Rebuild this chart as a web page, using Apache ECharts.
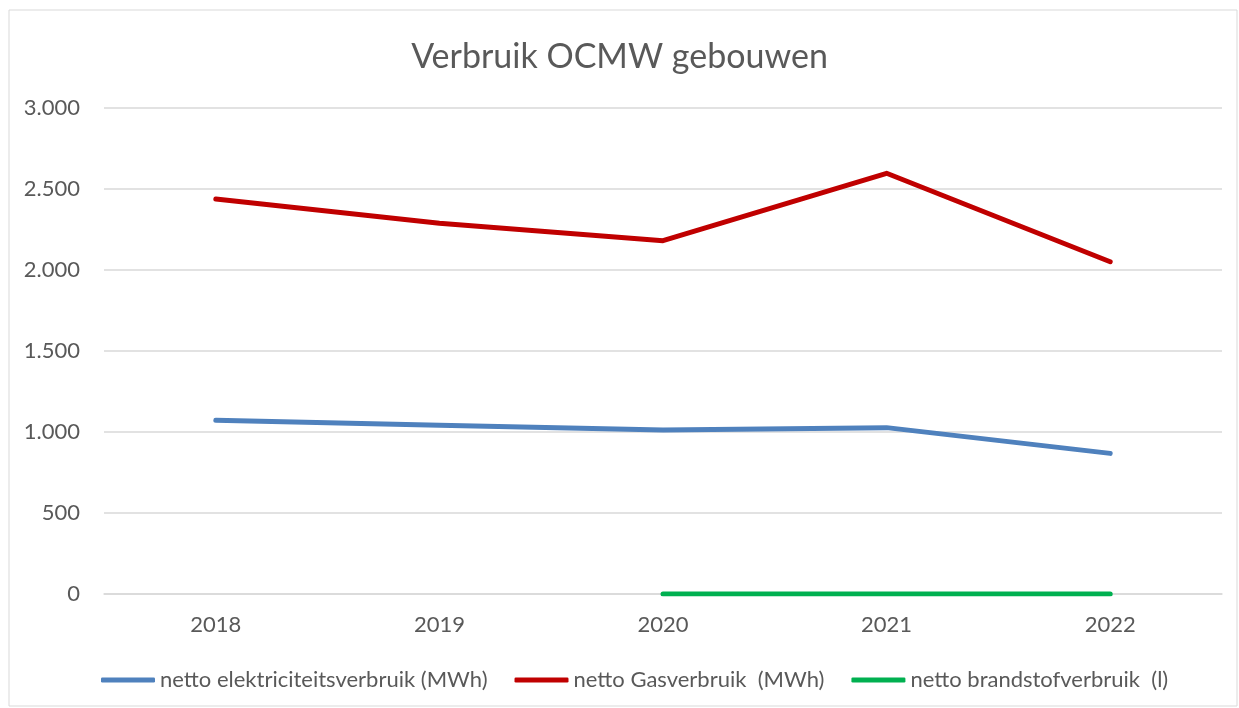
<!DOCTYPE html>
<html>
<head>
<meta charset="utf-8">
<script src="https://cdn.jsdelivr.net/npm/echarts@6/dist/echarts.min.js"></script>
<style>
  html, body { margin: 0; padding: 0; background: #fff; }
  #chart { width: 1239px; height: 708px; }
</style>
</head>
<body>
<div id="chart"></div>
<script>
// Verbruik OCMW gebouwen - lijngrafiek
var years = ['2018', '2019', '2020', '2021', '2022'];
var elektriciteit = [1072, 1041, 1012, 1027, 868];
var gas = [2438, 2288, 2181, 2597, 2051];
var brandstof = [null, null, 0, 0, 0];
var yTicks = [0, 500, 1000, 1500, 2000, 2500, 3000];

(function () {
  var chart = echarts.init(document.getElementById('chart'), null, { renderer: 'canvas' });
  var font = 'Lato, "Open Sans", sans-serif';
  var grey = '#595959';
  var rule = '#d9d9d9';

  function nl(v) { return String(v).replace(/\B(?=(\d{3})+(?!\d))/g, '.'); }

  function lineSeries(name, data, color) {
    return {
      name: name, type: 'line', data: data, symbol: 'none',
      lineStyle: { color: color, width: 5, cap: 'round', join: 'round' },
      itemStyle: { color: color }
    };
  }

  chart.setOption({
    animation: false,
    textStyle: { fontFamily: font },
    title: {
      text: 'Verbruik OCMW gebouwen', left: 'center', top: 35,
      textStyle: { color: grey, fontSize: 34, fontWeight: 'normal', fontFamily: font }
    },
    graphic: [{
      type: 'rect', shape: { x: 9, y: 10, width: 1228, height: 696 },
      style: { fill: 'none', stroke: rule, lineWidth: 1 }, silent: true
    }],
    grid: { left: 104, right: 17, top: 108, bottom: 114 },
    legend: {
      bottom: 12, left: 96, icon: 'roundRect', itemWidth: 54, itemHeight: 5, itemGap: 27,
      textStyle: { color: grey, fontSize: 22, fontFamily: font },
      data: ['netto elektriciteitsverbruik (MWh)', 'netto Gasverbruik  (MWh)', 'netto brandstofverbruik  (l)']
    },
    xAxis: {
      type: 'category', data: years, boundaryGap: true,
      axisLine: { lineStyle: { color: rule, width: 1.5 } },
      axisTick: { show: false },
      axisLabel: { color: grey, fontSize: 22, margin: 20, fontFamily: font }
    },
    yAxis: {
      type: 'value', min: yTicks[0], max: yTicks[yTicks.length - 1], interval: 500,
      axisLine: { show: false }, axisTick: { show: false },
      axisLabel: { color: grey, fontSize: 22, margin: 24, fontFamily: font, formatter: nl },
      splitLine: { lineStyle: { color: rule, width: 1.5 } }
    },
    series: [
      lineSeries('netto elektriciteitsverbruik (MWh)', elektriciteit, '#4f81bd'),
      lineSeries('netto Gasverbruik  (MWh)', gas, '#c00000'),
      lineSeries('netto brandstofverbruik  (l)', brandstof, '#00b050')
    ]
  });
})();
</script>
</body>
</html>
